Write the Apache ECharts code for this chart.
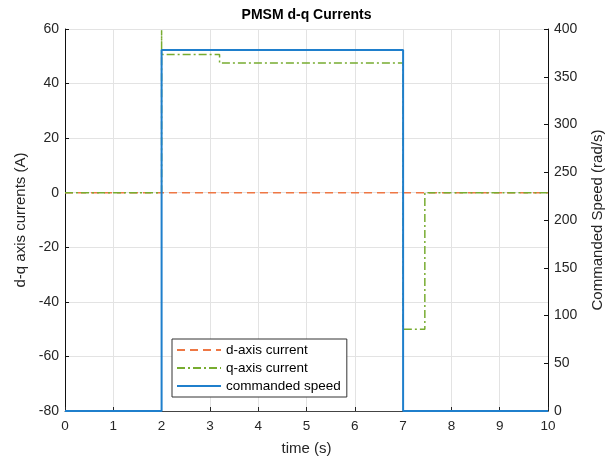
<!DOCTYPE html>
<html>
<head>
<meta charset="utf-8">
<script src="https://cdn.jsdelivr.net/npm/echarts@6/dist/echarts.min.js"></script>
<style>html,body{margin:0;padding:0;background:#fff}#c{width:613px;height:461px}</style>
</head>
<body>
<div id="c"></div>
<script>
// Data (step-wise signals: time points and values)
var dTime = [0, 10];
var dValue = [0, 0];
var qTime = [0, 2, 2, 2, 3.2, 3.2, 7, 7, 7.45, 7.45, 10];
var qValue = [0, 0, 59.5, 50.7, 50.7, 47.5, 47.5, -50, -50, 0, 0];
var sTime = [0, 2, 2, 7, 7, 10];
var sValue = [0, 0, 378, 378, 0, 0];
var xTicks = [0,1,2,3,4,5,6,7,8,9,10];

function pairs(t, v) { return t.map(function (x, i) { return [x, v[i]]; }); }

var font = 'Liberation Sans, Arial, Helvetica, sans-serif';
var axisCol = '#262626';
var chart = echarts.init(document.getElementById('c'));
chart.setOption({
  animation: false,
  backgroundColor: '#fff',
  title: {
    text: 'PMSM d-q Currents', left: 'center', top: 3,
    textStyle: { fontFamily: font, fontSize: 14, fontWeight: 'bold', color: '#000' }
  },
  grid: { left: 65, right: 65, top: 29, bottom: 50 },
  legend: {
    orient: 'vertical', left: 172, top: 339,
    backgroundColor: '#fff', borderColor: '#333', borderWidth: 1, borderRadius: 0,
    padding: [4, 6, 4, 4], itemGap: 4, itemWidth: 44, itemHeight: 14,
    itemStyle: { opacity: 0 },
    textStyle: { fontFamily: font, fontSize: 13.5, color: '#000' },
    data: ['d-axis current', 'q-axis current', 'commanded speed']
  },
  xAxis: [{
    type: 'value', min: xTicks[0], max: xTicks[xTicks.length - 1], interval: 1,
    name: 'time (s)', nameLocation: 'middle', nameGap: 30,
    nameTextStyle: { fontFamily: font, fontSize: 15, color: axisCol },
    axisLine: { onZero: false, lineStyle: { color: '#444', width: 1 } },
    axisTick: { inside: true, length: 4, lineStyle: { color: axisCol } },
    axisLabel: { fontFamily: font, fontSize: 13.5, color: axisCol, margin: 8 },
    splitLine: { show: true, lineStyle: { color: '#e3e3e3' } }
  }],
  yAxis: [{
    type: 'value', min: -80, max: 60, interval: 20,
    name: 'd-q axis currents (A)', nameLocation: 'middle', nameGap: 35,
    nameTextStyle: { fontFamily: font, fontSize: 15, color: axisCol },
    axisLine: { show: true, onZero: false, lineStyle: { color: '#111', width: 1 } },
    axisTick: { show: true, inside: true, length: 4, lineStyle: { color: '#111' } },
    axisLabel: { fontFamily: font, fontSize: 14, color: axisCol, margin: 6 },
    splitLine: { show: true, lineStyle: { color: '#e3e3e3' } }
  }, {
    type: 'value', min: 0, max: 400, interval: 50, position: 'right',
    name: 'Commanded Speed (rad/s)', nameLocation: 'middle', nameGap: 42, nameRotate: 90,
    nameTextStyle: { fontFamily: font, fontSize: 15, color: axisCol },
    axisLine: { show: true, onZero: false, lineStyle: { color: '#111', width: 1 } },
    axisTick: { show: true, inside: true, length: 4, lineStyle: { color: '#111' } },
    axisLabel: { fontFamily: font, fontSize: 14, color: axisCol, margin: 6 },
    splitLine: { show: false }
  }],
  series: [{
    name: 'd-axis current', type: 'line', yAxisIndex: 0, symbol: 'none',
    data: pairs(dTime, dValue),
    lineStyle: { color: '#EE7744', width: 1.5, type: [8, 5] },
    itemStyle: { color: '#EE7744' }
  }, {
    name: 'q-axis current', type: 'line', yAxisIndex: 0, symbol: 'none',
    data: pairs(qTime, qValue),
    lineStyle: { color: '#77AC30', width: 1.5, type: [8, 3, 2, 3] },
    itemStyle: { color: '#77AC30' }
  }, {
    name: 'commanded speed', type: 'line', yAxisIndex: 1, symbol: 'none',
    data: pairs(sTime, sValue),
    lineStyle: { color: '#1F7FCC', width: 2 },
    itemStyle: { color: '#1F7FCC' }
  }]
});
</script>
</body>
</html>
